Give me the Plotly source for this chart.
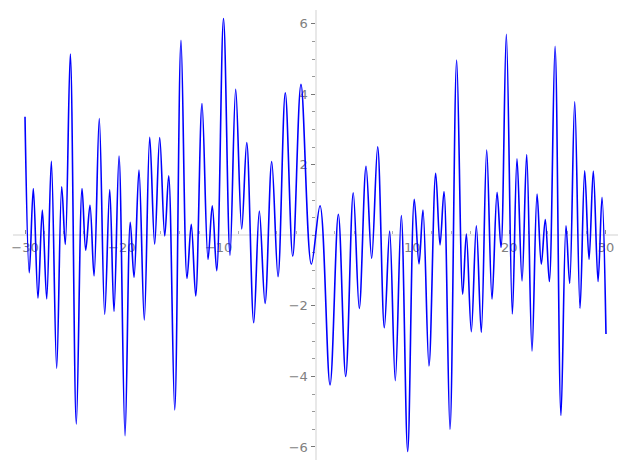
import plotly.graph_objects as go

# local extrema of the curve
x_pts = [-30.00, -29.56, -29.14, -28.66, -28.21, -27.76, -27.28, -26.73, -26.21, -25.84,
         -25.32, -24.70, -24.11, -23.73, -23.29, -22.87, -22.33, -21.77, -21.25, -20.81,
         -20.29, -19.67, -19.13, -18.74, -18.23, -17.68, -17.12, -16.61, -16.09, -15.57,
         -15.16, -14.54, -13.89, -13.27, -12.83, -12.37, -11.72, -11.10, -10.66, -10.20,
         -9.50, -8.83, -8.24, -7.62, -7.10, -6.38, -5.80, -5.21, -4.52, -3.87,
         -3.12, -2.35, -1.50, -0.43, 0.47, 1.50, 2.36, 3.12, 3.90, 4.52,
         5.22, 5.80, 6.42, 7.11, 7.66, 8.24, 8.86, 9.52, 10.20, 10.69,
         11.10, 11.72, 12.41, 12.86, 13.27, 13.89, 14.58, 15.20, 15.58, 16.09,
         16.61, 17.12, 17.68, 18.23, 18.75, 19.16, 19.71, 20.33, 20.81, 21.33,
         21.81, 22.36, 22.88, 23.32, 23.73, 24.15, 24.74, 25.35, 25.87, 26.25,
         26.77, 27.32, 27.80, 28.25, 28.69, 29.18, 29.59, 30.00]
y_pts = [3.36, -1.06, 1.33, -1.78, 0.72, -1.80, 2.10, -3.77, 1.38, -0.26,
         5.14, -5.35, 1.33, -0.42, 0.85, -1.15, 3.31, -2.24, 1.30, -2.16,
         2.25, -5.68, 0.37, -1.19, 1.85, -2.40, 2.78, -0.25, 2.77, -0.02,
         1.69, -4.95, 5.53, -1.22, 0.31, -1.72, 3.74, -0.68, 0.84, -1.00,
         6.15, -0.56, 4.14, 0.18, 2.63, -2.48, 0.69, -1.93, 2.09, -1.17,
         4.04, -0.59, 4.28, -0.82, 0.84, -4.24, 0.60, -4.00, 1.21, -2.07,
         1.96, -0.65, 2.51, -2.62, 0.12, -4.12, 0.56, -6.13, 1.02, -0.81,
         0.72, -3.70, 1.76, -0.27, 1.24, -5.50, 4.97, -1.67, 0.04, -2.73,
         0.27, -2.75, 2.42, -1.81, 1.22, -0.34, 5.70, -2.23, 2.17, -1.29,
         2.29, -3.28, 1.17, -0.82, 0.45, -1.31, 5.36, -5.11, 0.27, -1.36,
         3.79, -2.07, 1.83, -0.68, 1.82, -1.31, 1.08, -2.80]

x_ticks = [-30, -20, -10, 10, 20, 30]
y_ticks = [-6, -4, -2, 2, 4, 6]

fig = go.Figure(go.Scatter(x=x_pts, y=y_pts, mode='lines',
                           line=dict(color='#0000ff', width=1.6, shape='spline', smoothing=1.0)))

axis_font = dict(family='DejaVu Sans', size=13, color='#808080')
# page body adds 8px, so margins are shifted by that much
fig.update_layout(width=627, height=470, autosize=False,
                  margin=dict(l=5, r=17, t=2, b=18),
                  plot_bgcolor='white', paper_bgcolor='white', showlegend=False)
fig.update_xaxes(range=[-31.24, 31.24], anchor='free', position=0.4993, automargin=False,
                 showline=True, linecolor='#e8e8e8', linewidth=2, layer='below traces',
                 showgrid=False, zeroline=False,
                 tickvals=x_ticks, ticktext=['\u2212' + str(-v) if v < 0 else str(v) for v in x_ticks],
                 ticks='inside', ticklen=4, tickcolor='#888888', tickfont=axis_font,
                 minor=dict(dtick=2, ticks='inside', ticklen=3, tickcolor='#b0b0b0'))
fig.update_yaxes(range=[-6.37, 6.39], anchor='free', position=0.5, automargin=False,
                 showline=True, linecolor='#e8e8e8', linewidth=2, layer='below traces',
                 showgrid=False, zeroline=False,
                 tickvals=y_ticks, ticktext=['\u2212' + str(-v) if v < 0 else str(v) for v in y_ticks],
                 ticks='outside', ticklen=4, tickcolor='#777777', tickfont=axis_font,
                 minor=dict(dtick=0.5, ticks='outside', ticklen=3, tickcolor='#999999'))

fig.write_html("out.html")
